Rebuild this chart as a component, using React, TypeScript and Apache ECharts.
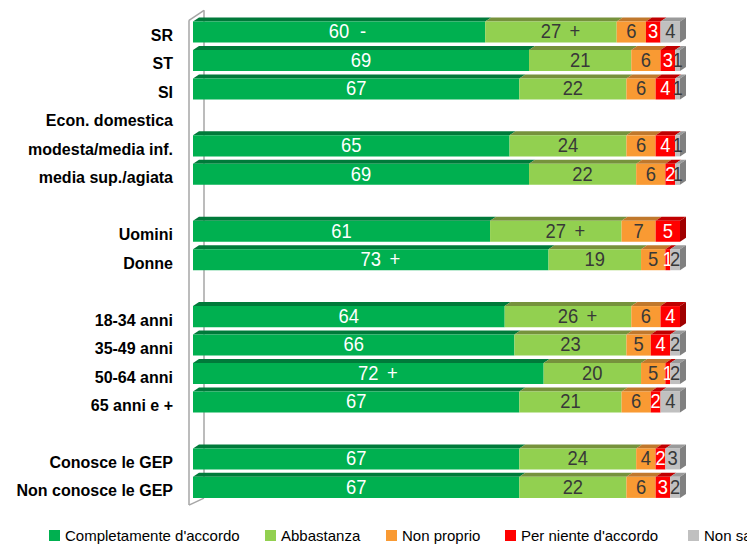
import React, { useEffect, useRef } from "react";
import * as echarts from "echarts";

const categories = [
  "SR", "ST", "SI", "Econ. domestica", "modesta/media inf.", "media sup./agiata", " ",
  "Uomini", "Donne", "  ", "18-34 anni", "35-49 anni", "50-64 anni", "65 anni e +", "   ",
  "Conosce le GEP", "Non conosce le GEP",
];

const seriesNames = ["Completamente d'accordo", "Abbastanza", "Non proprio", "Per niente d'accordo", "Non sa"];

const completamente = [60, 69, 67, null, 65, 69, null, 61, 73, null, 64, 66, 72, 67, null, 67, 67];
const abbastanza = [27, 21, 22, null, 24, 22, null, 27, 19, null, 26, 23, 20, 21, null, 24, 22];
const nonProprio = [6, 6, 6, null, 6, 6, null, 7, 5, null, 6, 5, 5, 6, null, 4, 6];
const perNiente = [3, 3, 4, null, 4, 2, null, 5, 1, null, 4, 4, 1, 2, null, 2, 3];
const nonSa = [4, 1, 1, null, 1, 1, null, 0, 2, null, 0, 2, 2, 4, null, 3, 2];

const marksCompletamente = ["-", "", "", "", "", "", "", "", "+", "", "", "", "+", "", "", "", ""];
const marksAbbastanza = ["+", "", "", "", "", "", "", "+", "", "", "+", "", "", "", "", "", ""];
const noMarks: string[] = [];

const FONT = '"Liberation Sans", Arial, Helvetica, sans-serif';
const DX = 6;
const DY = 4;

const defs = [
  { values: completamente, marks: marksCompletamente, color: "#00B050", top: "#007A3A", side: "#006B30", text: "#FFFFFF" },
  { values: abbastanza, marks: marksAbbastanza, color: "#92D050", top: "#76923C", side: "#5F7A30", text: "#383838" },
  { values: nonProprio, marks: noMarks, color: "#F99A33", top: "#C0782C", side: "#A86420", text: "#383838" },
  { values: perNiente, marks: noMarks, color: "#FF0000", top: "#C00000", side: "#A00000", text: "#FFFFFF" },
  { values: nonSa, marks: noMarks, color: "#C0C0C0", top: "#9A9A9A", side: "#808080", text: "#383838" },
];

const legendLefts = [49, 265, 386, 505, 688];

function buildData() {
  const out: number[][][] = defs.map(() => []);
  for (let i = 0; i < categories.length; i++) {
    if (completamente[i] == null) continue;
    let lastK = 0;
    defs.forEach((d, k) => {
      if ((d.values[i] as number) > 0) lastK = k;
    });
    let cum = 0;
    defs.forEach((d, k) => {
      const v = d.values[i] as number;
      out[k].push([cum, cum + v, i, v, k === lastK ? 1 : 0]);
      cum += v;
    });
  }
  return out;
}

export default function App() {
  const ref = useRef<HTMLDivElement>(null);
  useEffect(() => {
    if (!ref.current) return;
    const chart = echarts.init(ref.current, undefined, { renderer: "svg" });
    const data = buildData();

    const barSeries = defs.map((def, k) => ({
      type: "custom",
      name: seriesNames[k],
      z: 3,
      itemStyle: { color: def.color },
      encode: { x: [0, 1], y: 2 },
      data: data[k],
      renderItem: (params: any, api: any) => {
        const start = api.value(0);
        const end = api.value(1);
        const row = api.value(2);
        const v = api.value(3);
        const last = api.value(4);
        if (!v) return { type: "group", children: [] };
        const a = api.coord([start, row]);
        const b = api.coord([end, row]);
        const band = api.size([1, 1])[1];
        const h = band * 0.74;
        const cy = a[1] + 0.5;
        const yt = cy - h / 2;
        const yb = cy + h / 2;
        const x0 = a[0];
        const x1 = b[0];
        const children: any[] = [
          {
            type: "polygon",
            shape: { points: [[x0, yt], [x1, yt], [x1 + DX, yt - DY], [x0 + DX, yt - DY]] },
            style: { fill: def.top },
          },
          { type: "rect", shape: { x: x0, y: yt, width: x1 - x0, height: h }, style: { fill: def.color } },
        ];
        if (last) {
          children.push({
            type: "polygon",
            shape: { points: [[x1, yt], [x1 + DX, yt - DY], [x1 + DX, yb - DY], [x1, yb]] },
            style: { fill: def.side },
          });
        }
        const cx = (x0 + x1) / 2;
        const ts = {
          fill: def.text,
          font: `20px ${FONT}`,
          align: "center",
          verticalAlign: "middle",
          textAlign: "center",
          textVerticalAlign: "middle",
        };
        children.push({ type: "text", x: cx, y: cy - 0.5, scaleX: 0.92, style: { ...ts, text: String(v) } });
        const mark = def.marks[row];
        if (mark) {
          children.push({ type: "text", x: cx + 24, y: cy - 0.5, scaleX: 0.92, style: { ...ts, text: mark } });
        }
        return { type: "group", children };
      },
    }));

    const wallSeries = {
      type: "custom",
      name: "wall",
      z: 1,
      silent: true,
      encode: { x: 0, y: 1 },
      data: [[0, 0]],
      renderItem: (params: any) => {
        const cs = params.coordSys;
        const L = cs.x;
        const T = cs.y;
        const B = cs.y + cs.height;
        const st = { stroke: "#A6A6A6", lineWidth: 1.5, fill: "none" };
        return {
          type: "group",
          children: [
            { type: "line", shape: { x1: L - 4, y1: T + 3, x2: L - 4, y2: B + 4 }, style: st },
            { type: "line", shape: { x1: L + 11, y1: T - 7, x2: L + 11, y2: B - 3 }, style: st },
            { type: "line", shape: { x1: L - 4, y1: T + 3, x2: L + 11, y2: T - 7 }, style: st },
            { type: "line", shape: { x1: L - 4, y1: B + 4, x2: L + 11, y2: B - 3 }, style: st },
          ],
        };
      },
    };

    chart.setOption({
      animation: false,
      backgroundColor: "#FFFFFF",
      grid: { left: 193, top: 17.3, width: 487, height: 483.8, containLabel: false },
      xAxis: { type: "value", min: 0, max: 100, show: false },
      yAxis: {
        type: "category",
        inverse: true,
        data: categories,
        axisLine: { show: false },
        axisTick: { show: false },
        splitLine: { show: false },
        axisLabel: {
          color: "#000000",
          fontWeight: "bold",
          fontSize: 16,
          fontFamily: FONT,
          margin: 20,
          verticalAlign: "top",
          lineHeight: 8,
        },
      },
      legend: seriesNames.map((n, i) => ({
        data: [n],
        left: legendLefts[i],
        top: 528,
        padding: 0,
        itemWidth: 11,
        itemHeight: 11,
        icon: "rect",
        selectedMode: false,
        textStyle: { color: "#000000", fontSize: 15, fontFamily: FONT },
      })),
      series: [wallSeries, ...barSeries],
    });
    return () => chart.dispose();
  }, []);
  return <div ref={ref} style={{ position: "absolute", left: 0, top: 0, width: 747, height: 544 }} />;
}
